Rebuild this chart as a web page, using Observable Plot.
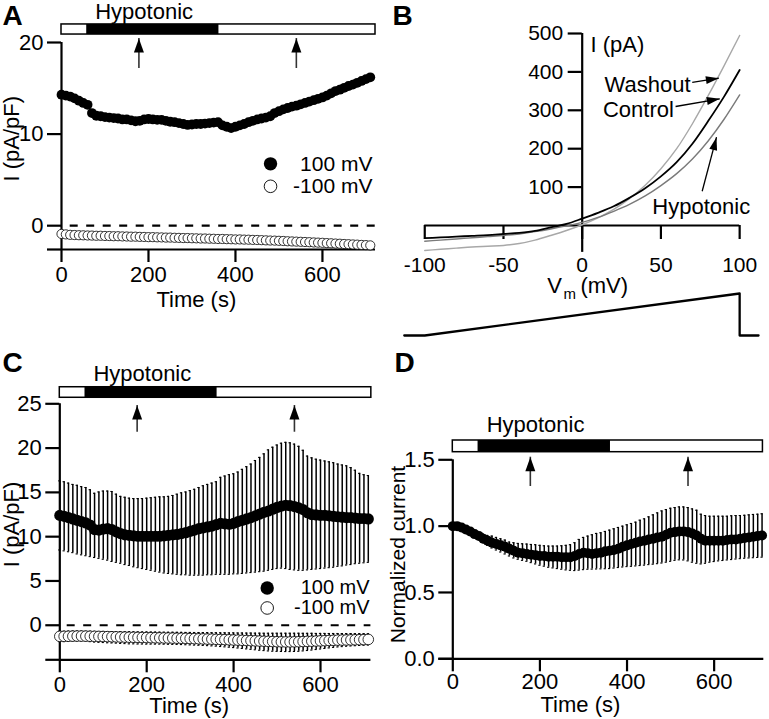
<!DOCTYPE html>
<html><head><meta charset="utf-8">
<script src="https://cdn.jsdelivr.net/npm/d3@7"></script>
<script src="https://cdn.jsdelivr.net/npm/@observablehq/plot@0.6"></script>
<style>
html,body{margin:0;padding:0;background:#fff;}
#fig{position:relative;width:769px;height:719px;overflow:hidden;background:#fff;}
#fig svg{position:absolute;left:0;top:0;}
</style></head><body><div id="fig"></div>
<script>
// ---------- data ----------
const times = [0,10,20,30,40,50,60,70,80,90,100,110,
  120,130,140,150,160,170,180,190,200,210,220,230,
  240,250,260,270,280,290,300,310,320,330,340,350,
  360,370,380,390,400,410,420,430,440,450,460,470,
  480,490,500,510,520,530,540,550,560,570,580,590,
  600,610,620,630,640,650,660,670,680,690,700,710];

// Panel A: single cell, pA/pF
const A_pos100 = [14.3,14.2,14.1,13.9,13.65,13.4,13.2,12.3,12.0,11.95,11.85,11.8,
  11.75,11.7,11.6,11.6,11.5,11.4,11.45,11.6,11.65,11.6,11.55,11.55,
  11.45,11.35,11.3,11.2,11.1,11.0,11.05,11.1,11.1,11.15,11.2,11.25,
  11.3,10.95,10.8,10.65,10.8,10.95,11.1,11.3,11.45,11.6,11.7,11.8,
  11.95,12.3,12.5,12.7,12.85,13.0,13.1,13.25,13.4,13.55,13.7,13.85,
  14.0,14.2,14.45,14.7,14.85,15.05,15.25,15.4,15.6,15.8,16.0,16.2];
const A_neg100 = [-0.9,-0.95,-1.0,-1.02,-1.04,-1.05,-1.07,-1.08,-1.1,-1.1,-1.12,-1.13,
  -1.15,-1.15,-1.17,-1.18,-1.2,-1.2,-1.22,-1.23,-1.25,-1.25,-1.27,-1.28,
  -1.3,-1.3,-1.32,-1.33,-1.35,-1.35,-1.37,-1.38,-1.4,-1.4,-1.42,-1.43,
  -1.45,-1.45,-1.47,-1.48,-1.5,-1.5,-1.52,-1.53,-1.55,-1.56,-1.58,-1.6,
  -1.62,-1.63,-1.65,-1.67,-1.7,-1.72,-1.74,-1.76,-1.78,-1.8,-1.83,-1.85,
  -1.87,-1.9,-1.92,-1.95,-1.97,-2.0,-2.02,-2.05,-2.07,-2.1,-2.12,-2.15];

// Panel B: I-V curves (pA)
const ivVm = [-100,-90,-80,-70,-60,-50,-40,-30,-20,-10,0,10,20,30,40,50,60,70,80,90,100];
const ivControl = [-33,-31,-29,-27,-25,-22,-19,-14,-5,4,18,33,50,72,97,128,165,213,272,335,405];
const ivHypotonic = [-41,-38,-35,-32,-29,-26,-22,-16,-9,-1,8,21,37,55,77,104,135,173,220,276,340];
const ivWashout = [-65,-62,-59,-56,-54,-52,-47,-38,-26,-13,2,20,42,70,105,148,200,265,338,415,495];
// ramp protocol (mV)
const rampTime = [-113,-100,100,100,112];
const rampCmd = [-100,-100,100,-100,-100];

// Panel C: mean +/- SEM, pA/pF
const C_pos_mean = [12.4,12.3,12.15,12.0,11.85,11.7,11.55,11.3,10.8,10.75,10.85,10.9,
  10.8,10.55,10.35,10.2,10.15,10.1,10.05,10.05,10.05,10.05,10.05,10.05,
  10.1,10.15,10.2,10.25,10.35,10.45,10.6,10.75,10.9,11.0,11.1,11.2,
  11.35,11.5,11.45,11.4,11.5,11.7,11.85,12.0,12.15,12.35,12.55,12.75,
  12.9,13.1,13.3,13.45,13.55,13.5,13.4,13.25,13.05,12.7,12.5,12.45,
  12.4,12.4,12.35,12.3,12.25,12.2,12.15,12.15,12.1,12.05,12.05,12.0];
const C_pos_hi = [16.3,16.2,16.05,15.9,15.8,15.65,15.55,15.3,14.9,15.05,15.15,15.15,
  15.1,14.8,14.55,14.45,14.35,14.3,14.3,14.3,14.35,14.4,14.45,14.5,
  14.5,14.55,14.65,14.8,14.95,15.05,15.2,15.35,15.55,15.75,15.9,16.05,
  16.2,16.7,16.85,17.0,17.1,17.3,17.6,17.9,18.2,18.6,18.95,19.35,
  19.8,20.1,20.35,20.55,20.65,20.6,20.45,20.2,19.75,19.1,18.9,18.75,
  18.65,18.55,18.45,18.35,18.2,18.1,18.0,17.8,17.5,17.15,17.0,16.9];
const C_pos_lo = [8.5,8.4,8.3,8.2,8.05,7.95,7.85,7.75,7.65,7.55,7.45,7.35,
  7.2,7.1,7.0,6.85,6.75,6.6,6.5,6.4,6.3,6.2,6.1,6.0,
  5.9,5.85,5.8,5.75,5.7,5.7,5.65,5.65,5.65,5.65,5.7,5.7,
  5.75,5.75,5.75,5.75,5.8,5.8,5.85,5.9,5.95,6.0,6.05,6.1,
  6.2,6.3,6.4,6.45,6.4,6.3,6.25,6.2,6.2,6.25,6.3,6.35,
  6.4,6.45,6.5,6.55,6.65,6.7,6.8,6.85,6.95,7.0,7.05,7.1];
const C_neg_mean = [-1.25,-1.25,-1.24,-1.23,-1.22,-1.22,-1.23,-1.24,-1.25,-1.26,-1.27,-1.28,
  -1.3,-1.31,-1.33,-1.34,-1.35,-1.36,-1.37,-1.38,-1.39,-1.4,-1.41,-1.42,
  -1.43,-1.44,-1.45,-1.46,-1.47,-1.48,-1.5,-1.51,-1.53,-1.54,-1.56,-1.57,
  -1.59,-1.6,-1.62,-1.64,-1.66,-1.68,-1.7,-1.72,-1.74,-1.76,-1.78,-1.8,
  -1.82,-1.84,-1.86,-1.87,-1.88,-1.88,-1.87,-1.86,-1.84,-1.82,-1.8,-1.78,
  -1.76,-1.74,-1.72,-1.7,-1.68,-1.67,-1.66,-1.65,-1.64,-1.63,-1.62,-1.6];
const C_neg_lo = [-1.85,-1.85,-1.83,-1.8,-1.78,-1.78,-1.8,-1.85,-1.9,-1.93,-1.95,-1.98,
  -2.0,-2.02,-2.05,-2.07,-2.1,-2.1,-2.12,-2.12,-2.13,-2.13,-2.13,-2.13,
  -2.14,-2.15,-2.16,-2.17,-2.18,-2.2,-2.22,-2.24,-2.26,-2.28,-2.3,-2.33,
  -2.36,-2.4,-2.44,-2.48,-2.52,-2.57,-2.62,-2.67,-2.72,-2.77,-2.82,-2.86,
  -2.9,-2.93,-2.95,-2.96,-2.97,-2.97,-2.96,-2.94,-2.9,-2.85,-2.8,-2.74,
  -2.68,-2.62,-2.56,-2.5,-2.45,-2.41,-2.37,-2.34,-2.31,-2.28,-2.26,-2.24];
const C_neg_hi = [-0.68,-0.68,-0.67,-0.66,-0.66,-0.66,-0.67,-0.68,-0.69,-0.7,-0.7,-0.71,
  -0.72,-0.72,-0.73,-0.74,-0.74,-0.75,-0.75,-0.76,-0.76,-0.77,-0.77,-0.78,
  -0.78,-0.79,-0.79,-0.8,-0.8,-0.81,-0.81,-0.82,-0.82,-0.83,-0.83,-0.84,
  -0.84,-0.85,-0.85,-0.86,-0.86,-0.87,-0.87,-0.88,-0.88,-0.89,-0.89,-0.9,
  -0.9,-0.9,-0.9,-0.9,-0.9,-0.9,-0.9,-0.9,-0.91,-0.91,-0.91,-0.92,
  -0.92,-0.92,-0.93,-0.93,-0.93,-0.94,-0.94,-0.94,-0.95,-0.95,-0.95,-0.96];

// Panel D: normalized current, mean +/- SEM
const D_mean = [1.0,1.0,0.99,0.975,0.96,0.94,0.925,0.905,0.89,0.875,0.865,0.855,
  0.845,0.83,0.815,0.8,0.795,0.79,0.785,0.78,0.775,0.775,0.77,0.77,
  0.77,0.765,0.765,0.765,0.775,0.79,0.8,0.795,0.79,0.795,0.8,0.81,
  0.815,0.82,0.83,0.845,0.855,0.865,0.875,0.885,0.89,0.9,0.905,0.915,
  0.92,0.935,0.95,0.955,0.96,0.96,0.955,0.945,0.93,0.905,0.89,0.89,
  0.89,0.89,0.89,0.895,0.9,0.9,0.905,0.91,0.915,0.92,0.925,0.93];
const D_hi = [1.0,1.005,1.0,0.99,0.975,0.96,0.95,0.94,0.93,0.925,0.915,0.905,
  0.895,0.88,0.875,0.87,0.867,0.865,0.862,0.86,0.855,0.852,0.85,0.85,
  0.85,0.852,0.855,0.86,0.875,0.9,0.915,0.925,0.935,0.945,0.95,0.96,
  0.97,0.98,0.99,1.0,1.01,1.02,1.03,1.045,1.055,1.07,1.085,1.1,
  1.115,1.125,1.135,1.14,1.145,1.145,1.14,1.13,1.12,1.09,1.08,1.075,
  1.075,1.075,1.075,1.075,1.078,1.08,1.08,1.082,1.085,1.088,1.09,1.093];
const D_lo = [1.0,0.995,0.98,0.96,0.945,0.925,0.905,0.875,0.855,0.835,0.82,0.805,
  0.79,0.775,0.76,0.75,0.742,0.735,0.725,0.715,0.705,0.698,0.69,0.685,
  0.68,0.675,0.67,0.667,0.665,0.668,0.672,0.675,0.676,0.677,0.678,0.679,
  0.68,0.684,0.688,0.692,0.695,0.697,0.7,0.703,0.706,0.71,0.713,0.717,
  0.722,0.728,0.735,0.742,0.746,0.745,0.738,0.728,0.72,0.715,0.72,0.728,
  0.733,0.738,0.741,0.745,0.748,0.752,0.755,0.758,0.76,0.762,0.764,0.766];

// stimulus timing
const hypoOn = 58, hypoOff = 362;
const arrowTimes = [178, 540];
const legendLabels = ["100 mV", "-100 mV"];
const timeTicks = [0, 200, 400, 600];

// ---------- helpers ----------
const FONT = '"Liberation Sans", Arial, Helvetica, sans-serif';
const fig = document.getElementById("fig");
const AX = 2.2;
function addPlot(opts) {
  const svg = Plot.plot({width: 769, height: 719, ...opts,
    style: {fontFamily: FONT, fontSize: "22px", background: "transparent", overflow: "visible", color: "black"}});
  fig.append(svg);
}
function makeHead(w, h) {
  return {draw(ctx) { ctx.moveTo(0, 0); ctx.lineTo(w / 2, h); ctx.lineTo(-w / 2, h); ctx.closePath(); }};
}
const head = makeHead(10, 14);
const headSmall = makeHead(8, 13);

function stimulus(xEnd, barY, arrowY, labelY) {
  return [
    Plot.rect([{a: 0, b: xEnd}], {x1: "a", x2: "b", y1: barY[0], y2: barY[1], fill: "white", stroke: "black", strokeWidth: 1.5}),
    Plot.rect([{a: hypoOn, b: hypoOff}], {x1: "a", x2: "b", y1: barY[0], y2: barY[1], fill: "black"}),
    Plot.ruleX(arrowTimes, {x: d => d, y1: arrowY[0], y2: arrowY[1], stroke: "#333", strokeWidth: 1.6}),
    Plot.dot(arrowTimes, {x: d => d, y: arrowY[1], symbol: head, fill: "black", stroke: "none", r: 5}),
    Plot.text(["Hypotonic"], {x: 190, y: labelY, fontSize: 22})
  ];
}
function legend(xDot, xText, ys, fs) {
  return [
    Plot.dot([0], {x: xDot, y: ys[0], r: 6.7, fill: "black"}),
    Plot.dot([0], {x: xDot, y: ys[1], r: 6.3, fill: "white", stroke: "black", strokeWidth: 0.9}),
    Plot.text(legendLabels, {x: xText, y: (d, i) => ys[i], textAnchor: "end", fontSize: fs})
  ];
}
function timeAxes(yMin, yTicks, fmt, xPad = 4) {
  return [
    Plot.ruleX([0], {strokeWidth: AX}),
    Plot.ruleY([yMin], {strokeWidth: AX}),
    Plot.axisY(yTicks, {tickSize: 14, tickPadding: 4, strokeWidth: AX, label: null, fontSize: 22, tickFormat: fmt}),
    Plot.axisY([yMin], {tickSize: 14, strokeWidth: AX, fill: "none", label: null}),
    Plot.axisX(timeTicks, {tickSize: 13, tickPadding: xPad, strokeWidth: AX, label: null, fontSize: 22, tickFormat: d => String(d)})
  ];
}
function errorBars(rows, lo, hi, w) {
  return [
    Plot.ruleX(rows, {x: "t", y1: lo, y2: hi, stroke: "black", strokeWidth: 1.5}),
    Plot.ruleY(rows, {y: hi, x1: d => d.t - w, x2: d => d.t + w, stroke: "black", strokeWidth: 1.1}),
    Plot.ruleY(rows, {y: lo, x1: d => d.t - w, x2: d => d.t + w, stroke: "black", strokeWidth: 1.1})
  ];
}

// ---------- Panel A ----------
const rowsA = times.map((t, i) => ({t, pos: A_pos100[i], neg: A_neg100[i]}));
addPlot({
  marginLeft: 61, marginRight: 394, marginTop: 42, marginBottom: 470,
  x: {domain: [0, 722]}, y: {domain: [-2.6, 20]},
  marks: [
    ...stimulus(722, [21.97, 20.87], [17.16, 20.44], 23.35),
    Plot.ruleY([0], {x1: 20, x2: 722, strokeDasharray: "8,8.5", strokeWidth: 2.2}),
    ...timeAxes(-2.6, [0, 10, 20]),
    Plot.dot(rowsA, {x: "t", y: "neg", r: 4.6, fill: "white", stroke: "black", strokeWidth: 0.8}),
    Plot.dot(rowsA, {x: "t", y: "pos", r: 4.9, fill: "black"}),
    ...legend(480.6, 715, [6.75, 4.3], 21),
    Plot.text(["I (pA/pF)"], {x: -114, y: 9.5, rotate: -90, fontSize: 22}),
    Plot.text(["Time (s)"], {x: 310, y: -8.06, fontSize: 22})
  ]
});

// ---------- Panel B ----------
const ivRows = ivVm.map((v, i) => ({v, control: ivControl[i], hypo: ivHypotonic[i], wash: ivWashout[i]}));
const ivNotes = [
  {label: "Washout", tx: 68.8, ty: 364.8, x1: 69.9, y1: 373, x2: 86.8, y2: 383.6, angle: 81.4, anchor: "end"},
  {label: "Control", tx: 58.2, ty: 299.7, x1: 59.3, y1: 309.9, x2: 87.4, y2: 330, angle: 80.1, anchor: "end"},
  {label: "Hypotonic", tx: 75.6, ty: 47.7, x1: 76.2, y1: 89.3, x2: 85.3, y2: 230, angle: 14.8, anchor: "middle"}
];
addPlot({
  marginLeft: 424.25, marginRight: 29.85, marginTop: 33, marginBottom: 494,
  x: {domain: [-100, 100]}, y: {domain: [0, 500], axis: null},
  marks: [
    Plot.ruleY([0], {strokeWidth: AX}),
    Plot.ruleX([0], {y1: -70, y2: 500, strokeWidth: AX}),
    Plot.axisX([-100, -50, 0, 50, 100], {tickSize: 14, tickPadding: 18, strokeWidth: AX, label: null, fontSize: 21, tickFormat: d => String(d)}),
    Plot.line(ivRows, {x: "v", y: "wash", stroke: "#a8a8a8", strokeWidth: 1.4, curve: "monotone-x"}),
    Plot.line(ivRows, {x: "v", y: "hypo", stroke: "#7a7a7a", strokeWidth: 1.4, curve: "monotone-x"}),
    Plot.line(ivRows, {x: "v", y: "control", stroke: "black", strokeWidth: 1.8, curve: "monotone-x"}),
    Plot.text(ivNotes.filter(d => d.anchor === "end"), {x: "tx", y: "ty", text: "label", textAnchor: "end", fontSize: 22}),
    Plot.text(ivNotes.filter(d => d.anchor === "middle"), {x: "tx", y: "ty", text: "label", fontSize: 22}),
    Plot.link(ivNotes, {x1: "x1", y1: "y1", x2: "x2", y2: "y2", stroke: "black", strokeWidth: 1.3}),
    Plot.dot(ivNotes, {x: "x2", y: "y2", symbol: headSmall, rotate: "angle", fill: "black", stroke: "none", r: 5}),
    Plot.text(["I (pA)"], {x: 5.3, y: 470.8, textAnchor: "start", fontSize: 22}),
    Plot.text(["V"], {x: -22.2, y: -158, textAnchor: "start", fontSize: 22}),
    Plot.text(["m"], {x: -11.8, y: -180, textAnchor: "start", fontSize: 15}),
    Plot.text(["(mV)"], {x: -1.1, y: -158, textAnchor: "start", fontSize: 22})
  ]
});
// B y axis (crosses at 0 mV)
addPlot({
  marginLeft: 581.7, marginRight: 29.85, marginTop: 33, marginBottom: 494,
  x: {domain: [0, 100], axis: null}, y: {domain: [0, 500]},
  marks: [
    Plot.axisY([100, 200, 300, 400, 500], {tickSize: 14, tickPadding: 5, strokeWidth: AX, label: null, fontSize: 21})
  ]
});
// B ramp protocol
addPlot({
  marginLeft: 424.25, marginRight: 29.85, marginTop: 293, marginBottom: 384,
  x: {domain: [-100, 100], axis: null}, y: {domain: [-100, 100], axis: null},
  marks: [
    Plot.line(rampTime.map((v, i) => ({v, c: rampCmd[i]})), {x: "v", y: "c", stroke: "black", strokeWidth: 2.3})
  ]
});

// ---------- Panel C ----------
const rowsC = times.map((t, i) => ({t, pm: C_pos_mean[i], phi: C_pos_hi[i], plo: C_pos_lo[i],
  nm: C_neg_mean[i], nhi: C_neg_hi[i], nlo: C_neg_lo[i]}));
addPlot({
  marginLeft: 59.3, marginRight: 398.6, marginTop: 403.3, marginBottom: 59.7,
  x: {domain: [0, 716]}, y: {domain: [-3.9, 25]},
  marks: [
    ...stimulus(717, [26.87, 25.68], [21.79, 24.81], 28.4),
    ...errorBars(rowsC, "plo", "phi", 2.5),
    ...errorBars(rowsC, "nlo", "nhi", 2.5),
    Plot.ruleY([0], {x1: 17, x2: 716, strokeDasharray: "8,8.5", strokeWidth: 2.2}),
    ...timeAxes(-3.9, [0, 5, 10, 15, 20, 25]),
    Plot.dot(rowsC, {x: "t", y: "nm", r: 5.3, fill: "white", stroke: "black", strokeWidth: 0.8}),
    Plot.dot(rowsC, {x: "t", y: "pm", r: 5.6, fill: "black"}),
    ...legend(477.3, 713, [4.2, 1.95], 20),
    Plot.text(["I (pA/pF)"], {x: -111, y: 11.37, rotate: -90, fontSize: 22}),
    Plot.text(["Time (s)"], {x: 298, y: -9.15, fontSize: 22})
  ]
});

// ---------- Panel D ----------
const rowsD = times.map((t, i) => ({t, m: D_mean[i], hi: D_hi[i], lo: D_lo[i]}));
addPlot({
  marginLeft: 452.3, marginRight: 5.7, marginTop: 459.3, marginBottom: 60.7,
  x: {domain: [0, 714]}, y: {domain: [0, 1.5]},
  marks: [
    ...stimulus(712, [1.6455, 1.5573], [1.2987, 1.5196], 1.7608),
    ...errorBars(rowsD, "lo", "hi", 2.5),
    ...timeAxes(0, [0, 0.5, 1, 1.5], d3.format(".1f"), 2),
    Plot.dot(rowsD, {x: "t", y: "m", r: 5, fill: "black"}),
    Plot.text(["Normalized current"], {x: -124.7, y: 0.786, rotate: -90, fontSize: 21}),
    Plot.text(["Time (s)"], {x: 293, y: -0.35, fontSize: 22})
  ]
});

// ---------- panel letters ----------
const panelLetters = ["A", "B", "C", "D"];
const letterOffsets = [[2, 5], [392, 5], [2, 352], [394, 352]];
addPlot({
  margin: 0,
  marks: panelLetters.map((L, i) => Plot.text([L], {frameAnchor: "top-left", dx: letterOffsets[i][0], dy: letterOffsets[i][1],
    textAnchor: "start", lineAnchor: "top", fontSize: 28, fontWeight: "bold"}))
});
</script></body></html>
